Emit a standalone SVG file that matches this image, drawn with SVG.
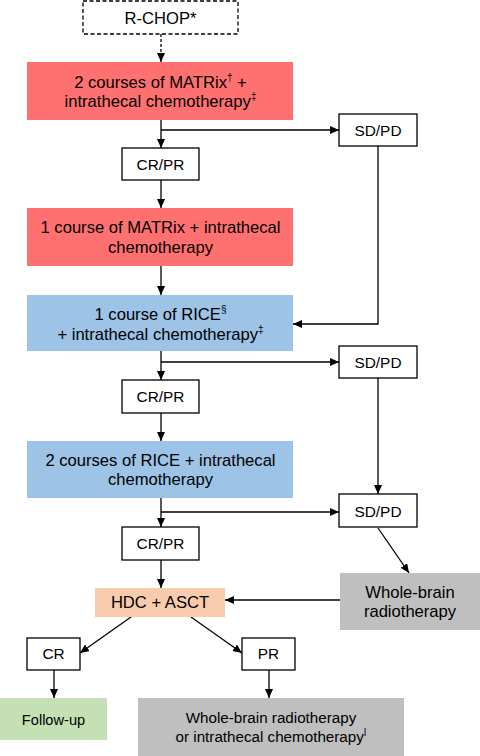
<svg xmlns="http://www.w3.org/2000/svg" width="480" height="756" viewBox="0 0 480 756">
<defs>
<marker id="ah" markerWidth="10" markerHeight="9" refX="9" refY="4" orient="auto" markerUnits="userSpaceOnUse">
<path d="M0,0 L9,4 L0,8 z" fill="#000"/>
</marker>
<style>
text{font-family:"Liberation Sans",Arial,sans-serif;fill:#000;text-anchor:middle}
.big{font-size:16.6px}
.sm{font-size:15.4px}
.sup{font-size:10px}
.ob{fill:#fff;stroke:#000;stroke-width:1.3}
.red{fill:#FF7171}
.blue{fill:#9DC3E6}
.gray{fill:#BFBFBF}
.peach{fill:#F8CBAD}
.green{fill:#C5E0B4}
.c{fill:none;stroke:#000;stroke-width:1.3;marker-end:url(#ah)}
</style>
</defs>
<g id="connectors">
<path class="c" d="M161,34 V62" stroke-dasharray="3,2"/>
<path class="c" d="M161,120 V148"/>
<path class="c" d="M161,130 H339"/>
<path class="c" d="M161,180 V208"/>
<path class="c" d="M161,266 V295"/>
<path class="c" d="M378,146 V324 H293"/>
<path class="c" d="M161,351 V380"/>
<path class="c" d="M161,362 H339"/>
<path class="c" d="M161,413 V441"/>
<path class="c" d="M378,378 V494"/>
<path class="c" d="M161,498 V527"/>
<path class="c" d="M161,512 H339"/>
<path class="c" d="M161,560 V588"/>
<path class="c" d="M378,528 L409,573"/>
<path class="c" d="M340,600 H225"/>
<path class="c" d="M131,617 L80,653"/>
<path class="c" d="M191,617 L242,653"/>
<path class="c" d="M54,670 V698"/>
<path class="c" d="M269,670 V698"/>
</g>
<g id="rchop">
<rect x="83" y="1" width="155" height="33" fill="#fff" stroke="#000" stroke-width="1.3" stroke-dasharray="4,2.5"/>
<text class="big" x="160.5" y="24">R-CHOP*</text>
</g>
<g id="matrix2">
<rect class="red" x="27" y="62" width="266" height="58"/>
<text class="big" x="160.5" y="88">2 courses of MATRix<tspan class="sup" dy="-7">†</tspan><tspan dy="7"> +</tspan></text>
<text class="big" x="160.5" y="107">intrathecal chemotherapy<tspan class="sup" dy="-7">‡</tspan></text>
</g>
<g id="sdpd1">
<rect class="ob" x="339" y="114" width="78" height="32"/>
<text class="sm" x="378" y="136">SD/PD</text>
</g>
<g id="crpr1">
<rect class="ob" x="122" y="148" width="77" height="32"/>
<text class="sm" x="160.5" y="170">CR/PR</text>
</g>
<g id="matrix1">
<rect class="red" x="27" y="208" width="266" height="58"/>
<text class="big" x="160.5" y="233">1 course of MATRix + intrathecal</text>
<text class="big" x="160.5" y="253">chemotherapy</text>
</g>
<g id="rice1">
<rect class="blue" x="27" y="295" width="266" height="56"/>
<text class="big" x="160.5" y="320">1 course of RICE<tspan class="sup" dy="-7">§</tspan></text>
<text class="big" x="160.5" y="340">+ intrathecal chemotherapy<tspan class="sup" dy="-7">‡</tspan></text>
</g>
<g id="sdpd2">
<rect class="ob" x="339" y="346" width="78" height="32"/>
<text class="sm" x="378" y="368">SD/PD</text>
</g>
<g id="crpr2">
<rect class="ob" x="122" y="380" width="77" height="33"/>
<text class="sm" x="160.5" y="402">CR/PR</text>
</g>
<g id="rice2">
<rect class="blue" x="27" y="441" width="266" height="57"/>
<text class="big" x="160.5" y="466">2 courses of RICE + intrathecal</text>
<text class="big" x="160.5" y="485">chemotherapy</text>
</g>
<g id="sdpd3">
<rect class="ob" x="339" y="494" width="78" height="33"/>
<text class="sm" x="378" y="516.5">SD/PD</text>
</g>
<g id="crpr3">
<rect class="ob" x="122" y="527" width="77" height="33"/>
<text class="sm" x="160.5" y="549">CR/PR</text>
</g>
<g id="hdc">
<rect class="peach" x="95" y="588" width="130" height="29"/>
<text class="big" x="160" y="608">HDC + ASCT</text>
</g>
<g id="wbrt">
<rect class="gray" x="340" y="573" width="140" height="57"/>
<text class="big" x="410" y="598">Whole-brain</text>
<text class="big" x="410" y="617">radiotherapy</text>
</g>
<g id="cr">
<rect class="ob" x="27" y="638" width="53" height="32"/>
<text class="sm" x="53.5" y="659">CR</text>
</g>
<g id="pr">
<rect class="ob" x="242" y="638" width="53" height="32"/>
<text class="sm" x="268.5" y="659">PR</text>
</g>
<g id="followup">
<rect class="green" x="0" y="698" width="107" height="42"/>
<text class="sm" x="53.5" y="725" style="font-size:14.6px">Follow-up</text>
</g>
<g id="final">
<rect class="gray" x="138" y="698" width="266" height="58"/>
<text x="271" y="722.5" style="font-size:15.2px">Whole-brain radiotherapy</text>
<text x="271" y="741.5" style="font-size:15.2px">or intrathecal chemotherapy<tspan class="sup" dy="-6">ǀ</tspan></text>
</g>
</svg>
